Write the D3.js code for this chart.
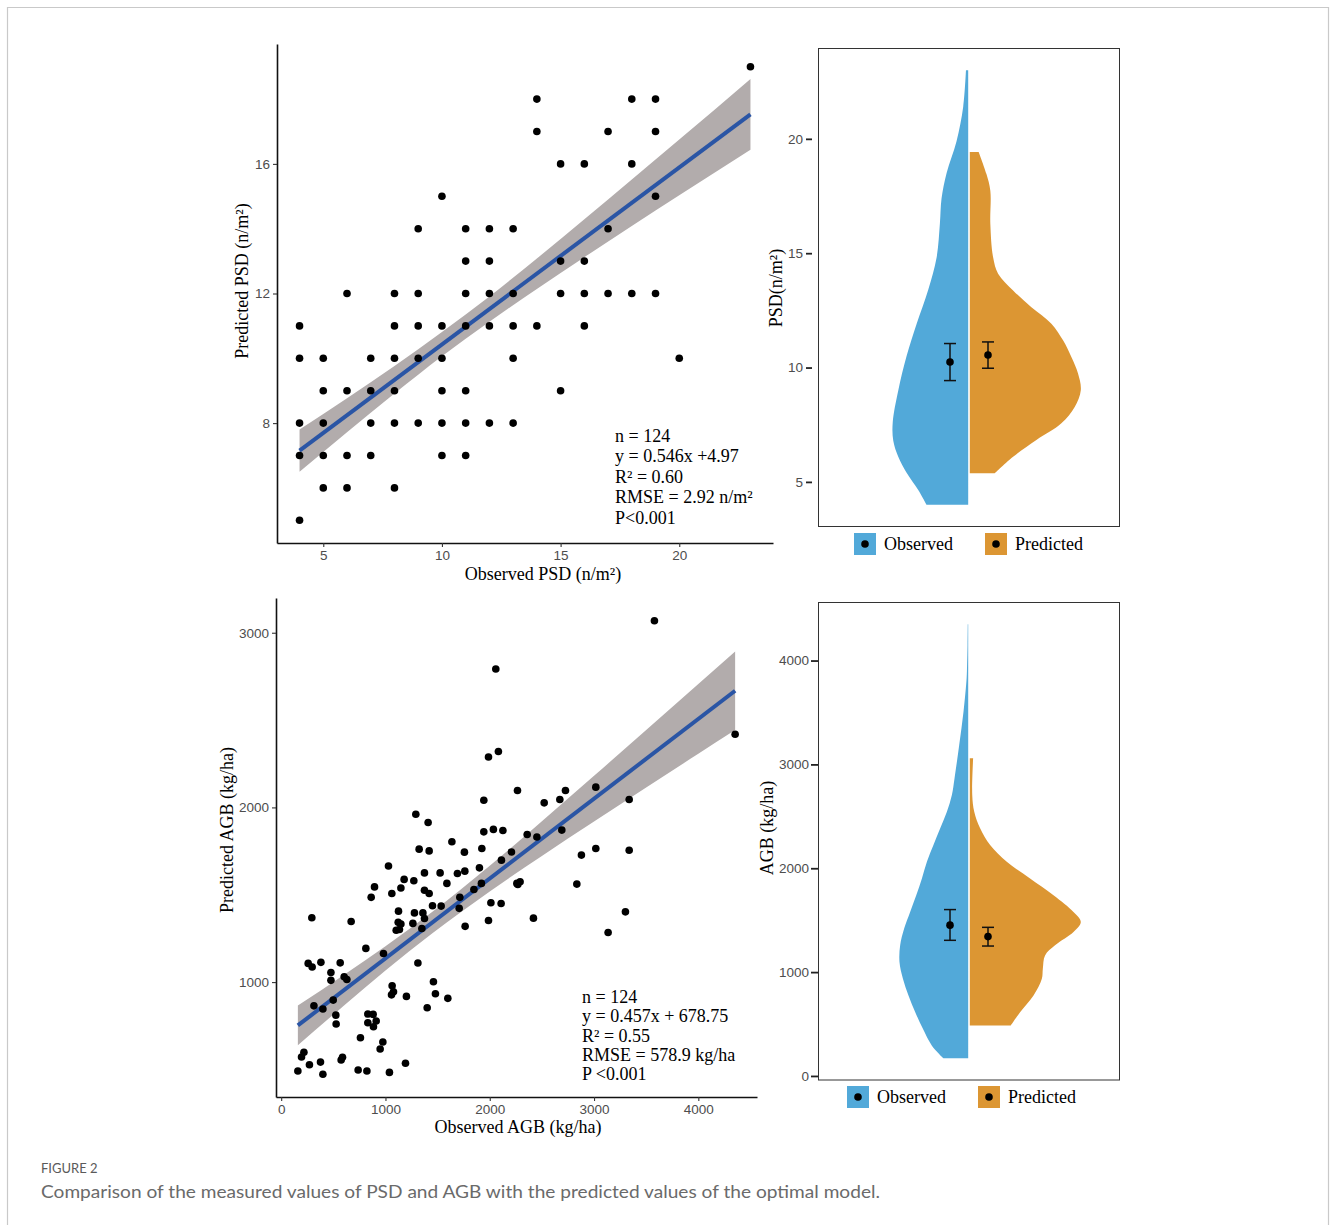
<!DOCTYPE html>
<html>
<head>
<meta charset="utf-8">
<script src="https://cdnjs.cloudflare.com/ajax/libs/d3/7.8.5/d3.min.js"></script>
<style>
    body { margin: 0; background: #fff; }
</style>
</head>
<body>
<div id="figure"></div>
<script>
// ---- PSD scatter: observed vs predicted (n/m2) ----
let psdObserved = [23,
    14, 18, 19,
    14, 17, 19,
    15, 16, 18,
    10, 19,
    9, 11, 12, 13, 17,
    11, 12, 15, 16,
    6, 8, 9, 11, 12, 13, 15, 16, 17, 18, 19,
    4, 8, 9, 10, 11, 12, 13, 14, 16,
    4, 5, 7, 8, 9, 10, 13, 20,
    5, 6, 7, 8, 10, 11, 15,
    4, 5, 7, 8, 9, 10, 11, 12, 13,
    4, 5, 6, 7, 10, 11,
    5, 6, 8,
    4];
let psdPredicted = [19,
    18, 18, 18,
    17, 17, 17,
    16, 16, 16,
    15, 15,
    14, 14, 14, 14, 14,
    13, 13, 13, 13,
    12, 12, 12, 12, 12, 12, 12, 12, 12, 12, 12,
    11, 11, 11, 11, 11, 11, 11, 11, 11,
    10, 10, 10, 10, 10, 10, 10, 10,
    9, 9, 9, 9, 9, 9, 9,
    8, 8, 8, 8, 8, 8, 8, 8, 8,
    7, 7, 7, 7, 7, 7,
    6, 6, 6,
    5];
let psdSlope = 0.546;
let psdIntercept = 4.97;
let psdBandX = [4, 6, 8, 10, 12, 14, 16, 18, 20, 23];
let psdBandLow = [6.50, 7.72, 8.91, 10.06, 11.13, 12.14, 13.12, 14.08, 15.03, 16.44];
let psdBandHigh = [7.80, 8.77, 9.76, 10.81, 11.91, 13.08, 14.29, 15.52, 16.75, 18.62];
let psdStats = ["n = 124", "y = 0.546x +4.97", "R\u00b2 = 0.60", "RMSE = 2.92 n/m\u00b2", "P<0.001"];
let psdXTicks = [5, 10, 15, 20];
let psdYTicks = [8, 12, 16];

// ---- AGB scatter: observed vs predicted (kg/ha) ----
let agbObserved = [3579, 2058, 4353, 1988, 2083, 2266, 1943, 1291, 1409, 1637,
    1943, 2035, 2126, 1323, 1419, 1757, 1924, 2208, 1029, 1374,
    1524, 1690, 1761, 1901, 2112, 1179, 1272, 1589, 2260, 2291,
    895, 1148, 1374, 1419, 1061, 1848, 1920, 863, 1713, 2011,
    2109, 1451, 1534, 1707, 1125, 1278, 1359, 1374, 294, 671,
    1122, 1148, 1263, 1349, 1103, 1134, 1764, 1988, 812, 981,
    259, 297, 381, 566, 477, 1311, 604, 630, 477, 1460,
    1064, 1077, 1058, 1479, 1201, 1598, 314, 400, 499, 1400,
    524, 831, 882, 527, 831, 911, 885, 760, 975, 949,
    218, 195, 588, 575, 377, 271, 1192, 160, 400, 738,
    822, 1038, 2522, 2672, 2726, 3017, 3337, 2359, 2452, 2691,
    3017, 3337, 2879, 2835, 2419, 3301, 3135, 2269];
let agbPredicted = [3069, 2792, 2419, 2289, 2320, 2097, 2041, 1961, 1914, 1803,
    1860, 1874, 1868, 1761, 1751, 1744, 1765, 1745, 1665, 1625,
    1625, 1622, 1635, 1654, 1698, 1588, 1580, 1565, 1565, 1574,
    1545, 1539, 1526, 1507, 1507, 1530, 1565, 1485, 1485, 1454,
    1450, 1437, 1435, 1422, 1406, 1396, 1396, 1364, 1368, 1347,
    1342, 1332, 1336, 1307, 1297, 1301, 1319, 1353, 1193, 1164,
    1107, 1086, 1113, 1110, 1055, 1109, 1030, 1015, 1010, 1002,
    979, 945, 927, 933, 918, 907, 864, 846, 897, 853,
    811, 817, 815, 760, 767, 777, 744, 681, 657, 617,
    598, 571, 569, 554, 542, 527, 535, 491, 472, 497,
    491, 483, 2026, 2045, 2097, 2116, 2045, 1845, 1831, 1870,
    1765, 1755, 1727, 1561, 1366, 1402, 1284, 1559];
let agbSlope = 0.457;
let agbIntercept = 678.75;
let agbBandX = [160, 600, 1000, 1450, 2000, 2500, 3000, 3500, 4000, 4353];
let agbBandLow = [638, 865, 1066, 1280, 1519, 1722, 1919, 2114, 2307, 2443];
let agbBandHigh = [866, 1041, 1205, 1402, 1666, 1921, 2181, 2443, 2707, 2893];
let agbStats = ["n = 124", "y = 0.457x + 678.75", "R\u00b2 = 0.55", "RMSE = 578.9 kg/ha", "P <0.001"];
let agbXTicks = [0, 1000, 2000, 3000, 4000];
let agbYTicks = [1000, 2000, 3000];

// ---- half violins (value, relative density) ----
let groups = ["Observed", "Predicted"];
let groupColors = ["#52a9d9", "#dc9633"];

let psdObsLevels = [4.0, 4.65, 5.4, 6.1, 6.8, 7.6, 9.0, 10.5, 11.9, 13.4, 14.8, 16.3, 17.4, 18.5, 19.9, 21.4, 23.0];
let psdObsDensity = [0.375, 0.45, 0.555, 0.63, 0.675, 0.68, 0.63, 0.555, 0.465, 0.36, 0.285, 0.255, 0.24, 0.195, 0.105, 0.045, 0.02];
let psdPredLevels = [5.38, 6.10, 6.83, 7.56, 8.28, 9.01, 9.74, 10.46, 11.19, 11.92, 12.64, 13.37, 14.10, 14.82, 16.28, 17.73, 18.46, 19.43];
let psdPredDensity = [0.225, 0.39, 0.60, 0.825, 0.945, 1.0, 0.975, 0.915, 0.84, 0.735, 0.555, 0.39, 0.255, 0.21, 0.185, 0.185, 0.15, 0.08];
let psdMeans = [10.24, 10.55];
let psdMeanLow = [9.43, 9.97];
let psdMeanHigh = [11.05, 11.12];
let psdViolinTicks = [5, 10, 15, 20];

let agbObsLevels = [170, 292, 454, 614, 775, 936, 1097, 1258, 1419, 1579, 1740, 1902, 2062, 2223, 2384, 2544, 2706, 2867, 3188, 3510, 3832, 3960, 4150, 4350];
let agbObsDensity = [0.223, 0.327, 0.408, 0.477, 0.538, 0.588, 0.619, 0.613, 0.577, 0.523, 0.468, 0.417, 0.372, 0.313, 0.252, 0.192, 0.147, 0.123, 0.081, 0.042, 0.014, 0.010, 0.006, 0.004];
let agbPredLevels = [486, 614, 775, 936, 1033, 1161, 1258, 1386, 1483, 1579, 1740, 1902, 2062, 2223, 2384, 2544, 2706, 3060];
let agbPredDensity = [0.369, 0.453, 0.574, 0.649, 0.658, 0.678, 0.768, 0.934, 1.0, 0.934, 0.754, 0.543, 0.333, 0.183, 0.093, 0.04, 0.022, 0.03];
let agbMeans = [1452, 1342];
let agbMeanLow = [1306, 1251];
let agbMeanHigh = [1602, 1431];
let agbViolinTicks = [0, 1000, 2000, 3000, 4000];

let serif = '"Liberation Serif", "Times New Roman", serif';
let sans = '"Liberation Sans", Arial, sans-serif';

let svg = d3.select('#figure').append('svg')
    .attr('width', 1331)
    .attr('height', 1225)
    .style('display', 'block')

// page frame
svg.append('path')
    .attr('d', 'M7.5,1225 V7.5 H1328.5 V1225')
    .attr('fill', 'none')
    .attr('stroke', '#c9c9c9')
    .attr('stroke-width', 1.2)

function padded(ext) {
    let d = (ext[1] - ext[0]) * 0.05;
    return [ext[0] - d, ext[1] + d];
}

function styleAxis(g) {
    g.selectAll('path').attr('stroke', '#111').attr('stroke-width', 1.6)
    g.selectAll('line').attr('stroke', '#333').attr('stroke-width', 1.1)
    g.selectAll('text')
        .attr('fill', '#4d4d4d')
        .style('font-family', sans)
        .style('font-size', '13.5px')
}

function drawScatter(c) {
    let x = d3.scaleLinear().domain(padded(d3.extent(c.xs))).range([c.left, c.right]);
    let y = d3.scaleLinear().domain(padded(d3.extent(c.ys))).range([c.bottom, c.top]);
    let g = svg.append('g');

    let band = c.bandX.map(function (v, i) { return { x: v, lo: c.bandLow[i], hi: c.bandHigh[i] }; });
    g.append('path').datum(band)
        .attr('d', d3.area()
            .x(function (d) { return x(d.x); })
            .y0(function (d) { return y(d.lo); })
            .y1(function (d) { return y(d.hi); })
            .curve(d3.curveMonotoneX))
        .attr('fill', '#b2acac')

    let xr = d3.extent(c.xs);
    g.append('line')
        .attr('x1', x(xr[0])).attr('y1', y(c.slope * xr[0] + c.intercept))
        .attr('x2', x(xr[1])).attr('y2', y(c.slope * xr[1] + c.intercept))
        .attr('stroke', '#2a55a5')
        .attr('stroke-width', 4)

    g.selectAll('circle.pt').data(c.xs)
        .enter().append('circle')
        .attr('class', 'pt')
        .attr('cx', function (d) { return x(d); })
        .attr('cy', function (d, i) { return y(c.ys[i]); })
        .attr('r', 3.8)
        .attr('fill', '#000')

    let xAxis = g.append('g')
        .attr('transform', 'translate(0,' + c.bottom + ')')
        .call(d3.axisBottom(x).tickValues(c.xTicks).tickFormat(d3.format('d'))
            .tickSize(4).tickSizeOuter(0).tickPadding(3))
    styleAxis(xAxis);
    let yAxis = g.append('g')
        .attr('transform', 'translate(' + c.left + ',0)')
        .call(d3.axisLeft(y).tickValues(c.yTicks).tickFormat(d3.format('d'))
            .tickSize(4).tickSizeOuter(0).tickPadding(3))
    styleAxis(yAxis);

    g.append('text')
        .attr('x', c.xTitlePos[0]).attr('y', c.xTitlePos[1])
        .attr('text-anchor', 'middle')
        .style('font-family', serif).style('font-size', '18px')
        .text(c.xTitle)
    g.append('text')
        .attr('transform', 'translate(' + c.yTitlePos[0] + ',' + c.yTitlePos[1] + ') rotate(-90)')
        .attr('text-anchor', 'middle')
        .style('font-family', serif).style('font-size', '18px')
        .text(c.yTitle)

    g.append('g').selectAll('text').data(c.stats)
        .enter().append('text')
        .attr('x', c.statsPos[0])
        .attr('y', function (d, i) { return c.statsPos[1] + i * c.statsGap; })
        .style('font-family', serif).style('font-size', '18px')
        .text(function (d) { return d; })
}

function drawViolin(c) {
    let allLevels = c.levels[0].concat(c.levels[1]);
    let y = d3.scaleLinear().domain(padded(d3.extent(allLevels))).range([c.bottom, c.top]);
    let w = d3.scaleLinear().domain([0, 1]).range([0, 111]);
    let cx = 969;
    let g = svg.append('g');

    g.append('rect')
        .attr('x', 818.5).attr('y', c.top)
        .attr('width', 301).attr('height', c.bottom - c.top)
        .attr('fill', 'none').attr('stroke', '#333').attr('stroke-width', 1)

    groups.forEach(function (name, k) {
        let side = k == 0 ? -1 : 1;
        let pts = c.levels[k].map(function (v, i) { return [v, c.density[k][i]]; });
        g.append('path').datum(pts)
            .attr('d', d3.area()
                .y(function (d) { return y(d[0]); })
                .x0(cx + side * 0.8)
                .x1(function (d) { return cx + side * (0.8 + w(d[1])); })
                .curve(d3.curveCatmullRom))
            .attr('fill', groupColors[k])
    })

    groups.forEach(function (name, k) {
        let ex = cx + (k == 0 ? -19 : 19);
        let eb = g.append('g').attr('stroke', '#111').attr('stroke-width', 1.5);
        eb.append('line').attr('x1', ex).attr('x2', ex).attr('y1', y(c.low[k])).attr('y2', y(c.high[k]))
        eb.append('line').attr('x1', ex - 6).attr('x2', ex + 6).attr('y1', y(c.low[k])).attr('y2', y(c.low[k]))
        eb.append('line').attr('x1', ex - 6).attr('x2', ex + 6).attr('y1', y(c.high[k])).attr('y2', y(c.high[k]))
        g.append('circle').attr('cx', ex).attr('cy', y(c.means[k])).attr('r', 3.8).attr('fill', '#000')
    })

    let axis = g.append('g')
        .attr('transform', 'translate(' + c.axisX + ',0)')
        .call(d3.axisLeft(y).tickValues(c.ticks).tickFormat(d3.format('d'))
            .tickSize(c.tickLen).tickSizeOuter(0).tickPadding(c.tickPad))
    styleAxis(axis);
    axis.select('.domain').remove();
    axis.selectAll('line').attr('stroke', '#222').attr('stroke-width', 1.8)

    g.append('text')
        .attr('transform', 'translate(' + c.titlePos[0] + ',' + c.titlePos[1] + ') rotate(-90)')
        .attr('text-anchor', 'middle')
        .style('font-family', serif).style('font-size', '18px')
        .text(c.title)

    let legend = g.append('g').attr('transform', 'translate(0,' + c.legendY + ')');
    groups.forEach(function (name, k) {
        let lx = c.legendX[k];
        legend.append('rect').attr('x', lx).attr('y', -11).attr('width', 22).attr('height', 22)
            .attr('fill', groupColors[k])
        legend.append('circle').attr('cx', lx + 11).attr('cy', 0).attr('r', 3.8).attr('fill', '#000')
        legend.append('text').attr('x', lx + 30).attr('y', 6)
            .style('font-family', serif).style('font-size', '18px')
            .text(name)
    })
}

drawScatter({
    xs: psdObserved, ys: psdPredicted,
    left: 277, right: 773, top: 44, bottom: 543,
    slope: psdSlope, intercept: psdIntercept,
    bandX: psdBandX, bandLow: psdBandLow, bandHigh: psdBandHigh,
    xTicks: psdXTicks, yTicks: psdYTicks,
    xTitle: 'Observed PSD (n/m\u00b2)', xTitlePos: [543, 580],
    yTitle: 'Predicted PSD (n/m\u00b2)', yTitlePos: [248, 281],
    stats: psdStats, statsPos: [615, 442], statsGap: 20.4
})

drawScatter({
    xs: agbObserved, ys: agbPredicted,
    left: 276, right: 757, top: 598, bottom: 1097,
    slope: agbSlope, intercept: agbIntercept,
    bandX: agbBandX, bandLow: agbBandLow, bandHigh: agbBandHigh,
    xTicks: agbXTicks, yTicks: agbYTicks,
    xTitle: 'Observed AGB (kg/ha)', xTitlePos: [518, 1133],
    yTitle: 'Predicted AGB (kg/ha)', yTitlePos: [233, 830],
    stats: agbStats, statsPos: [582, 1003], statsGap: 19.3
})

drawViolin({
    levels: [psdObsLevels, psdPredLevels], density: [psdObsDensity, psdPredDensity],
    means: psdMeans, low: psdMeanLow, high: psdMeanHigh,
    top: 48.5, bottom: 526.5,
    ticks: psdViolinTicks, axisX: 812, tickLen: 6, tickPad: 3,
    title: 'PSD(n/m\u00b2)', titlePos: [782, 288],
    legendY: 544, legendX: [854, 985]
})

drawViolin({
    levels: [agbObsLevels, agbPredLevels], density: [agbObsDensity, agbPredDensity],
    means: agbMeans, low: agbMeanLow, high: agbMeanHigh,
    top: 602.5, bottom: 1080,
    ticks: agbViolinTicks, axisX: 818, tickLen: 7, tickPad: 2,
    title: 'AGB (kg/ha)', titlePos: [773, 828],
    legendY: 1097, legendX: [847, 978]
})

// caption
svg.append('text')
    .attr('x', 41).attr('y', 1173)
    .attr('fill', '#5a5a5a')
    .style('font-family', 'Lato, "Noto Sans", sans-serif')
    .style('font-size', '13px')
    .text('FIGURE 2')
svg.append('text')
    .attr('x', 41).attr('y', 1198)
    .attr('fill', '#6a6a6a')
    .attr('textLength', 839)
    .attr('lengthAdjust', 'spacingAndGlyphs')
    .style('font-family', 'Lato, "Noto Sans", sans-serif')
    .style('font-size', '17.5px')
    .text('Comparison of the measured values of PSD and AGB with the predicted values of the optimal model.')
</script>
</body>
</html>
